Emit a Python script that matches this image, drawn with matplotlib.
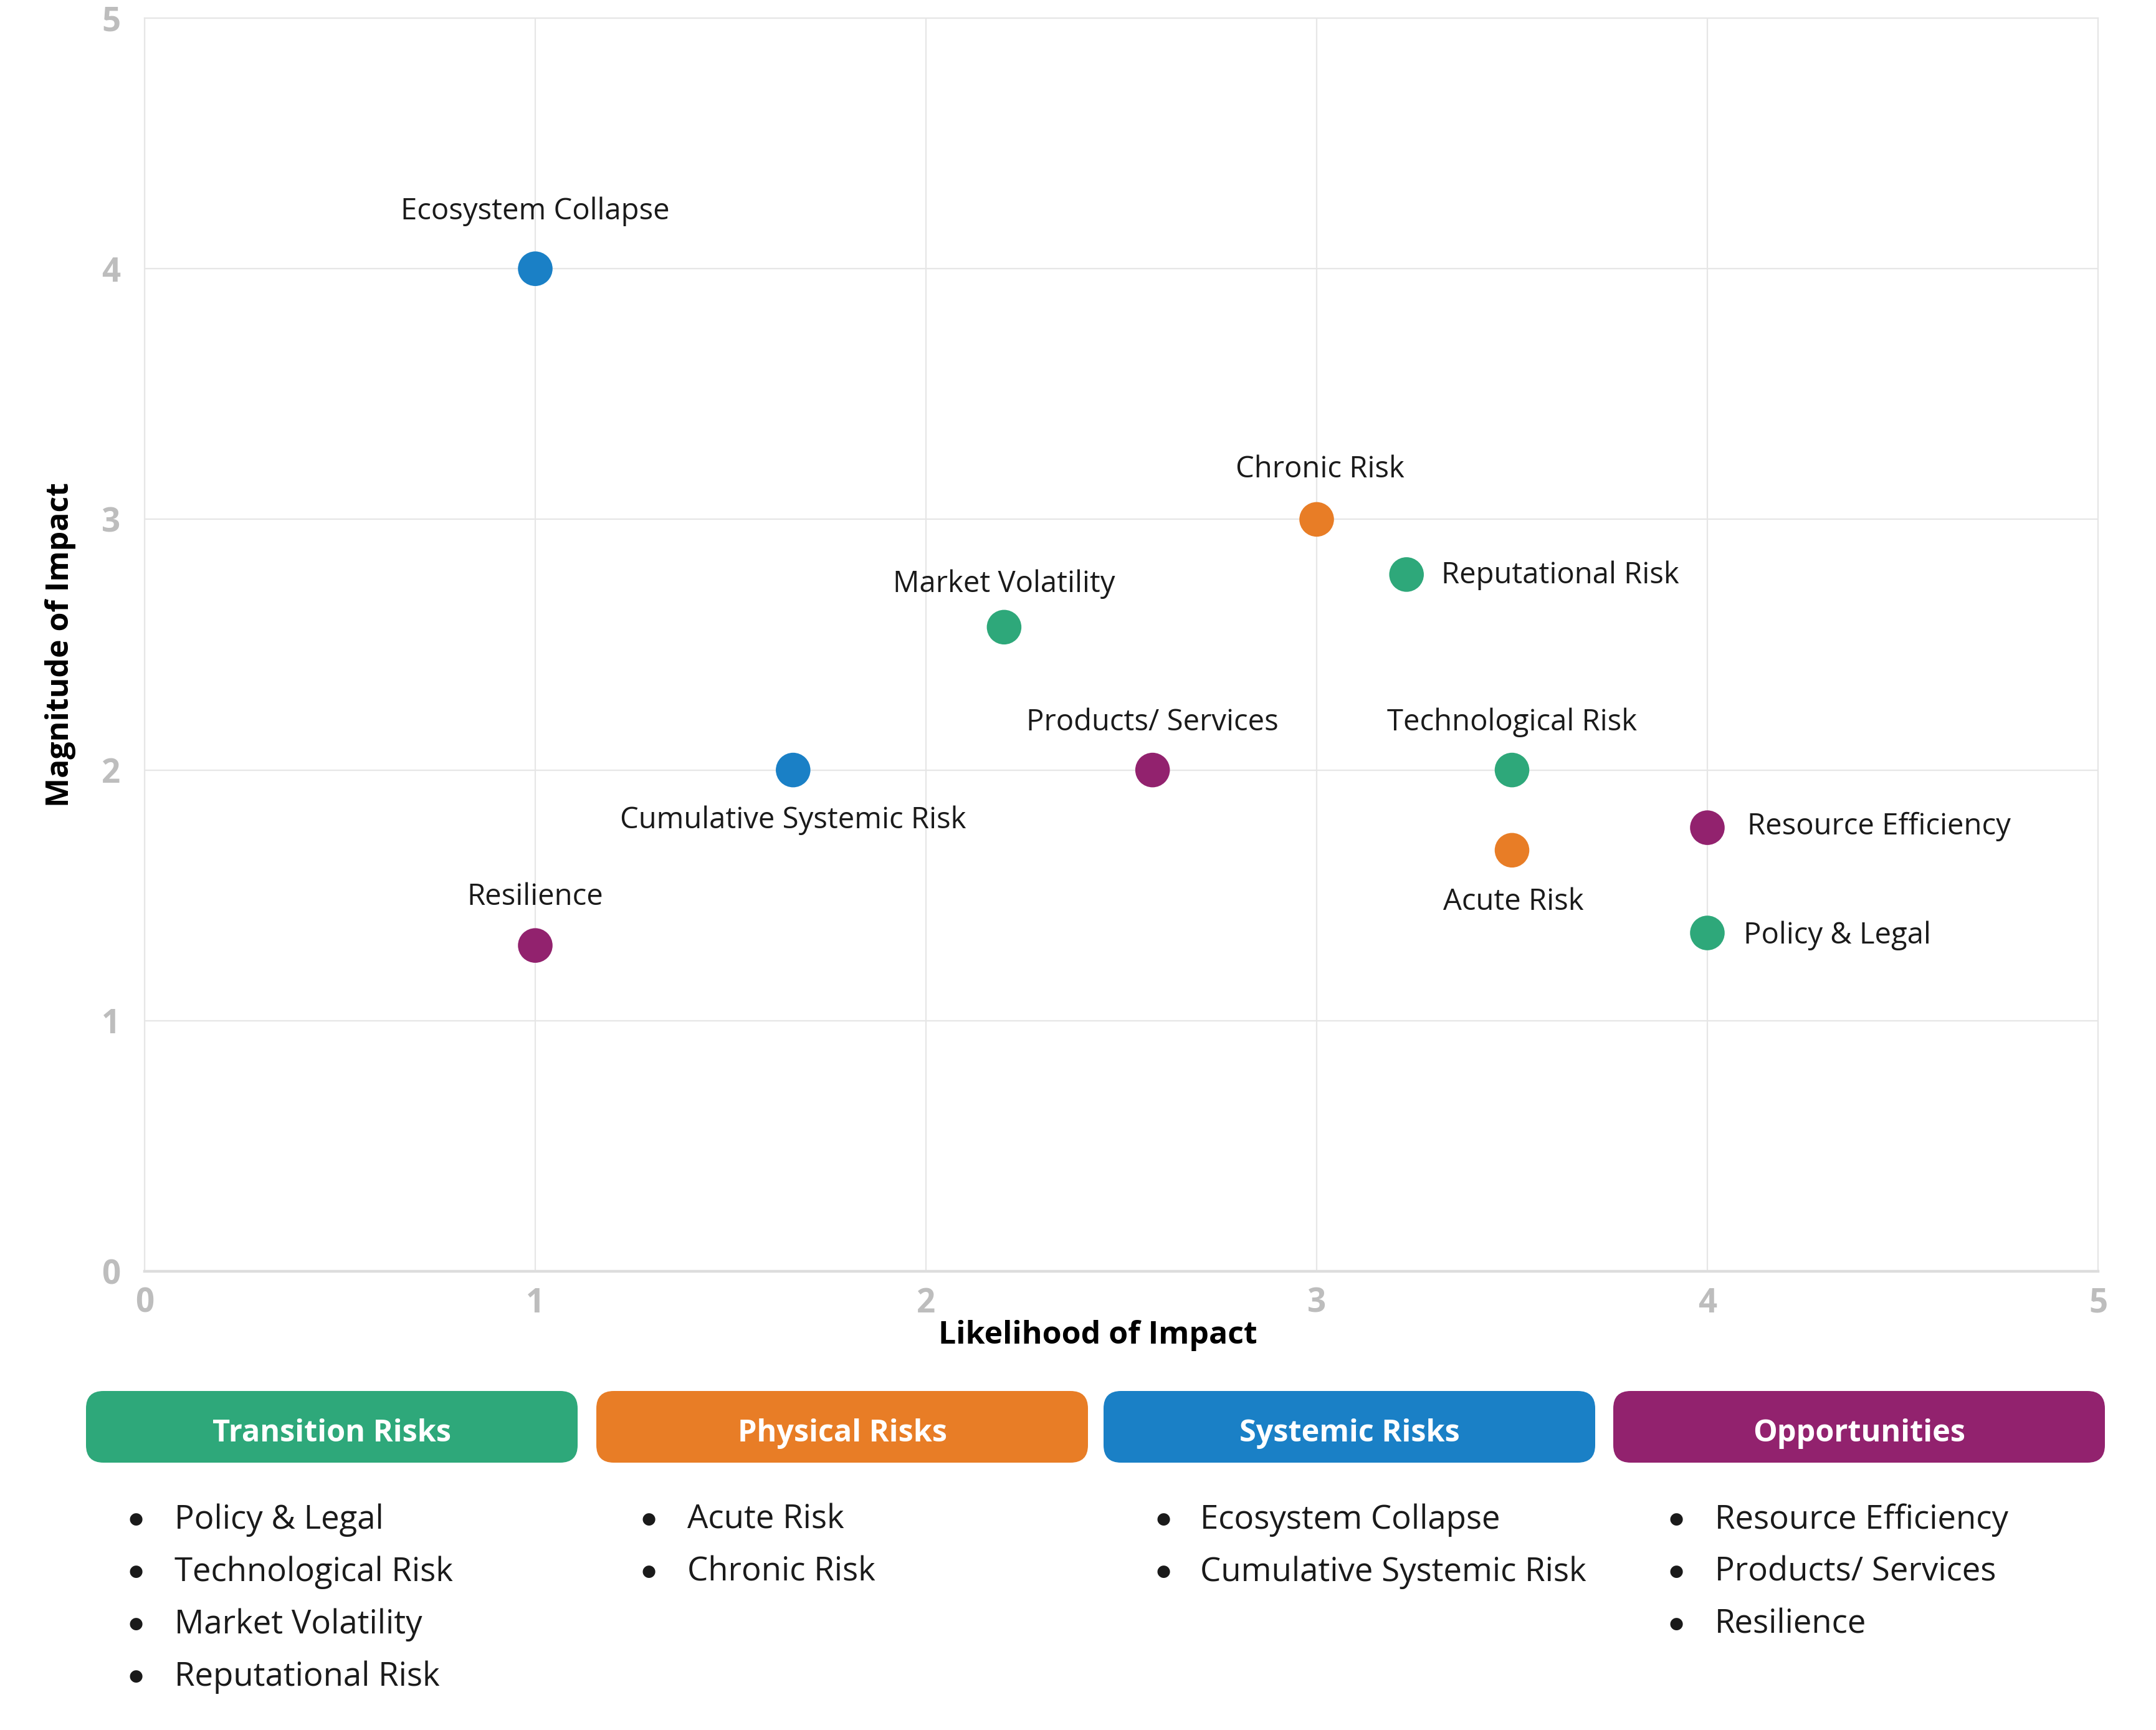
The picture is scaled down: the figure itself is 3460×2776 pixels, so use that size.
import matplotlib
matplotlib.use('Agg')
import matplotlib.pyplot as plt
from matplotlib.patches import FancyBboxPatch

plt.rcParams['font.family'] = ['Open Sans', 'DejaVu Sans']

# --- data ---
names = ["Policy & Legal", "Technological Risk", "Market Volatility", "Reputational Risk",
         "Acute Risk", "Chronic Risk",
         "Ecosystem Collapse", "Cumulative Systemic Risk",
         "Resource Efficiency", "Products/ Services", "Resilience"]
likelihood = [4.0, 3.5, 2.2, 3.23, 3.5, 3.0, 1.0, 1.66, 4.0, 2.58, 1.0]
magnitude = [1.35, 2.0, 2.57, 2.78, 1.68, 3.0, 4.0, 2.0, 1.77, 2.0, 1.3]
groups = [0, 0, 0, 0, 1, 1, 2, 2, 3, 3, 3]

group_names = ["Transition Risks", "Physical Risks", "Systemic Risks", "Opportunities"]
group_colors = ["#2EA87A", "#E87D26", "#1A80C6", "#92226E"]
ticks = [0, 1, 2, 3, 4, 5]

# label offsets in points: (dx, dy, ha)
label_pos = {
    "Ecosystem Collapse": (0, 33, 'center'),
    "Chronic Risk": (2, 29, 'center'),
    "Market Volatility": (0, 25, 'center'),
    "Products/ Services": (0, 27.5, 'center'),
    "Technological Risk": (0, 27.5, 'center'),
    "Resilience": (0, 28, 'center'),
    "Cumulative Systemic Risk": (0, -29, 'center'),
    "Acute Risk": (1, -30, 'center'),
    "Reputational Risk": (20, -0.5, 'left'),
    "Resource Efficiency": (23, 0.5, 'left'),
    "Policy & Legal": (21, -1.5, 'left'),
}

W, H, DPI = 3460, 2776, 200
fig = plt.figure(figsize=(W / DPI, H / DPI), dpi=DPI)
ax = fig.add_axes([232 / W, 1 - 2040 / H, (3367 - 232) / W, (2040 - 29) / H])

ax.set_xlim(0, 5)
ax.set_ylim(0, 5)
ax.set_xticks(ticks)
ax.set_yticks(ticks)
ax.grid(True, color='#E6E6E6', lw=0.8)
ax.set_axisbelow(True)
for side in ['top', 'right', 'left']:
    ax.spines[side].set_color('#E6E6E6')
    ax.spines[side].set_linewidth(0.8)
ax.spines['bottom'].set_color('#DDDDDD')
ax.spines['bottom'].set_linewidth(1.6)
ax.tick_params(length=0, labelsize=19, labelcolor='#BDBDBD')
ax.tick_params(axis='x', pad=9)
ax.tick_params(axis='y', pad=14)
for lab in ax.get_xticklabels() + ax.get_yticklabels():
    lab.set_fontweight('bold')

cols = [group_colors[g] for g in groups]
ax.scatter(likelihood, magnitude, s=400, c=cols, zorder=3, linewidths=0)

for n, x, y in zip(names, likelihood, magnitude):
    dx, dy, ha = label_pos[n]
    ax.annotate(n, (x, y), xytext=(dx, dy), textcoords='offset points',
                ha=ha, va='center', fontsize=17, color='#1A1A1A')

ax.set_xlabel('Likelihood of Impact', fontsize=18, fontweight='bold')
ax.xaxis.set_label_coords(0.488, -0.051)
ax.xaxis.label.set_va('center')
ax.set_ylabel('Magnitude of Impact', fontsize=18, fontweight='bold')
ax.yaxis.set_label_coords(-0.043, 0.5)
ax.yaxis.label.set_va('center')

# --- category boxes below the chart, drawn in pixel coordinates ---
ov = fig.add_axes([0, 0, 1, 1])
ov.set_xlim(0, W)
ov.set_ylim(H, 0)
ov.axis('off')

box_left = [138, 957, 1771, 2589]
bullet_x = [218, 1041, 1867, 2690]
item_x = [280, 1103, 1926, 2752]
box_w = 789
box_top, box_h = 2232, 115
row_y = [2439, 2523, 2607, 2691]

for gi, gname in enumerate(group_names):
    x0 = box_left[gi]
    ov.add_patch(FancyBboxPatch((x0, box_top), box_w, box_h,
                                boxstyle='round,pad=0,rounding_size=28',
                                fc=group_colors[gi], ec='none'))
    ov.text(x0 + box_w / 2, box_top + box_h / 2 + 11, gname, color='white',
            fontsize=17.5, fontweight='bold', ha='center', va='center')
    members = [n for n, g in zip(names, groups) if g == gi]
    for k, n in enumerate(members):
        ov.text(bullet_x[gi], row_y[k], '●', fontsize=9.5, ha='center', va='center',
                color='#1A1A1A')
        ov.text(item_x[gi], row_y[k], n, fontsize=19, ha='left', va='center',
                color='#1A1A1A')

fig.savefig('out.png', dpi=DPI, facecolor='white')
